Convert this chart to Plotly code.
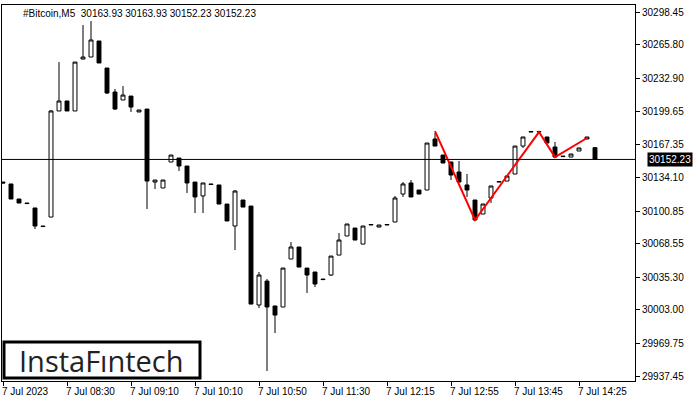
import plotly.graph_objects as go

opens = [30129.8,30127.9,30113.0,30109.0,30104.1,30086.2,30095.1,30200.3,30210.2,30200.3,
         30251.8,30253.8,30269.7,30242.9,30219.1,30211.2,30215.1,30199.3,30202.2,30129.8,
         30123.9,30149.7,30153.6,30145.7,30129.8,30116.0,30127.9,30126.9,30108.0,30086.2,
         30112.0,30106.0,30007.9,30031.6,30006.9,30005.9,30053.5,30065.4,30044.5,30040.6,
         30033.6,30037.6,30057.4,30076.3,30084.2,30068.3,30087.2,30085.2,30087.2,30090.2,
         30117.9,30128.9,30121.9,30121.9,30172.5,30156.6,30149.7,30139.8,30126.9,30112.0,
         30098.1,30114.0,30129.8,30130.8,30137.8,30165.5,30179.4,30179.4,30174.5,30164.6,
         30155.6,30154.6,30160.6,30172.5,30163.93]
highs = [30129.8,30127.9,30113.0,30109.0,30104.1,30086.2,30201.2,30248.8,30210.2,30248.8,
         30285.6,30289.5,30269.7,30242.9,30222.1,30225.0,30215.1,30201.3,30202.2,30131.8,
         30131.8,30156.6,30153.6,30145.7,30129.8,30128.9,30127.9,30126.9,30108.0,30121.9,
         30112.0,30106.0,30040.6,30033.6,30006.9,30044.5,30070.3,30065.4,30044.5,30040.6,
         30033.6,30056.4,30079.2,30088.2,30084.2,30086.2,30087.7,30087.2,30087.7,30116.0,
         30129.8,30131.8,30121.9,30168.5,30178.4,30156.6,30149.7,30150.7,30137.8,30112.0,
         30108.0,30125.9,30130.3,30135.8,30165.5,30174.5,30179.9,30179.9,30174.5,30169.5,
         30155.6,30157.6,30163.6,30174.5,30163.93]
lows = [30128.9,30113.0,30109.0,30108.5,30083.2,30085.7,30095.1,30200.3,30200.3,30200.3,
        30251.8,30253.8,30247.9,30217.1,30201.3,30211.2,30199.3,30199.3,30103.1,30122.9,
        30123.9,30149.7,30140.8,30119.0,30099.1,30099.1,30127.4,30108.0,30091.2,30062.4,
        30105.0,30008.8,30004.9,29942.4,29980.1,30005.9,30053.5,30045.5,30019.8,30025.7,
        30033.1,30036.6,30057.4,30076.3,30072.3,30068.3,30087.2,30085.2,30087.2,30090.2,
        30115.0,30115.0,30117.9,30121.9,30165.5,30148.7,30131.8,30129.8,30115.0,30092.2,
        30098.1,30109.0,30129.8,30130.8,30137.8,30163.6,30179.4,30179.4,30168.5,30154.6,
        30155.1,30154.6,30160.6,30172.5,30152.23]
closes = [30128.9,30113.0,30109.0,30108.5,30086.2,30085.7,30200.3,30210.2,30200.3,30248.8,
          30253.8,30270.7,30247.9,30218.1,30202.2,30216.1,30204.2,30201.3,30130.8,30131.8,
          30131.8,30156.6,30145.7,30128.9,30115.0,30128.9,30127.4,30108.0,30091.2,30120.9,
          30105.0,30008.8,30037.6,30005.9,29997.9,30044.5,30065.4,30045.5,30037.6,30028.7,
          30033.1,30056.4,30072.3,30088.2,30072.3,30086.2,30087.7,30087.2,30087.7,30114.0,
          30127.9,30115.0,30117.9,30168.5,30165.5,30148.7,30136.8,30129.8,30121.9,30092.2,
          30108.0,30125.9,30130.3,30135.8,30165.5,30174.5,30179.9,30179.9,30168.5,30154.6,
          30155.1,30157.6,30163.6,30174.5,30152.23]

pattern_x = [54, 59, 67, 69, 73]
pattern_y = [30180.4, 30092.2, 30179.4, 30154.6, 30173.5]

current_price = 30152.23
ytick_vals = [30298.45,30265.80,30232.90,30199.65,30167.35,30134.10,30100.85,
              30068.55,30035.30,30003.00,29969.75,29937.45]
xtick_pos = [0, 8, 16, 24, 32, 40, 48, 56, 64, 72]
xtick_labels = ["7 Jul 2023","7 Jul 08:30","7 Jul 09:10","7 Jul 10:10","7 Jul 10:50",
                "7 Jul 11:30","7 Jul 12:15","7 Jul 12:55","7 Jul 13:45","7 Jul 14:25"]

idx = list(range(len(opens)))
fnt = "Liberation Sans"

fig = go.Figure()
fig.add_trace(go.Candlestick(
    x=idx, open=opens, high=highs, low=lows, close=closes,
    increasing=dict(fillcolor="white", line=dict(color="black", width=1)),
    decreasing=dict(fillcolor="black", line=dict(color="black", width=1)),
    whiskerwidth=0, showlegend=False, hoverinfo="skip"))
fig.add_trace(go.Scatter(x=pattern_x, y=pattern_y, mode="lines",
                         line=dict(color="#ff0000", width=2), showlegend=False))

fig.add_shape(type="line", xref="paper", x0=0, x1=1, y0=current_price, y1=current_price,
              line=dict(color="black", width=1))

ann = []
for p, t in zip(xtick_pos, xtick_labels):
    ann.append(dict(x=p, y=0, xref="x", yref="paper", text=t, showarrow=False, xshift=-3,
                    yshift=-3, xanchor="left", yanchor="top",
                    font=dict(size=10, family=fnt, color="black")))
ann.append(dict(x=1, y=current_price, xref="paper", yref="y", text=f"{current_price:.2f}",
                showarrow=False, xanchor="left", yanchor="middle", xshift=12,
                bgcolor="black", font=dict(size=10, family=fnt, color="white"), borderpad=1))
ann.append(dict(x=0.03, y=0.998, xref="paper", yref="paper",
                text="#Bitcoin,M5  30163.93 30163.93 30152.23 30152.23", showarrow=False,
                xanchor="left", yanchor="top", font=dict(size=10, family=fnt, color="black")))
ann.append(dict(x=(101 - 2) / 633, y=(381 - 360) / 376, xref="paper", yref="paper",
                text="InstaFıntech", showarrow=False, xanchor="center", yanchor="middle",
                font=dict(size=29, family="Open Sans", color="#222")))
fig.add_shape(type="rect", xref="paper", yref="paper", x0=(4 - 2) / 633, x1=(200 - 2) / 633,
              y0=(381 - 378) / 376, y1=(381 - 342) / 376, line=dict(color="black", width=3),
              fillcolor="white", layer="below")

fig.update_layout(
    width=700, height=400, margin=dict(l=2, r=65, t=5, b=19, autoexpand=False),
    paper_bgcolor="white", plot_bgcolor="white", annotations=ann,
    xaxis=dict(range=[-0.125, 79], showgrid=False, zeroline=False, rangeslider=dict(visible=False),
               tickvals=xtick_pos, ticktext=[""] * len(xtick_pos), ticks="outside", ticklen=4,
               tickcolor="black", showline=True, linecolor="black", mirror=True, automargin=False),
    yaxis=dict(range=[29932.5, 30305.4], side="right", showgrid=False, zeroline=False,
               tickvals=ytick_vals, ticktext=[f"{v:.2f}" for v in ytick_vals], automargin=False,
               ticks="outside", ticklen=4, tickcolor="black", showline=True, linecolor="black",
               mirror=True, tickfont=dict(size=10, family=fnt, color="black")),
)
fig.write_html("out.html", config={"displayModeBar": False},
               post_script="document.body.style.margin='0';")
